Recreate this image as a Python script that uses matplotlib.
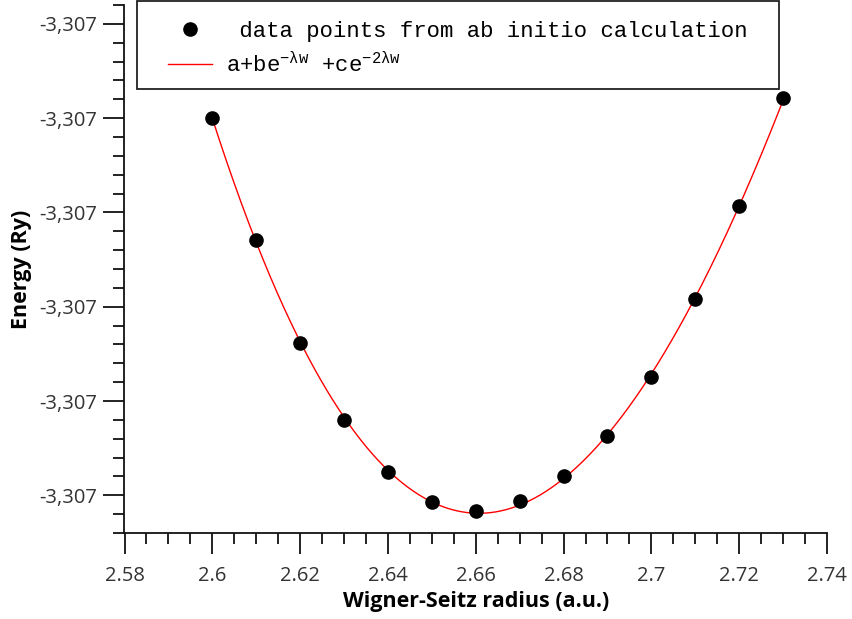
import numpy as np
import matplotlib
matplotlib.use("Agg")
import matplotlib.pyplot as plt
from matplotlib.ticker import MultipleLocator, FuncFormatter
from matplotlib.patches import Rectangle

# Wigner-Seitz radius (a.u.) and total energy (Ry)
radius = [2.60, 2.61, 2.62, 2.63, 2.64, 2.65, 2.66,
          2.67, 2.68, 2.69, 2.70, 2.71, 2.72, 2.73]
energy = [-3.306800, -3.306929, -3.307039, -3.307120, -3.307175, -3.307207, -3.307217,
          -3.307206, -3.307180, -3.307137, -3.307075, -3.306992, -3.306893, -3.306779]

x_ticks = [2.58, 2.60, 2.62, 2.64, 2.66, 2.68, 2.70, 2.72, 2.74]
x_tick_labels = ["2.58", "2.6", "2.62", "2.64", "2.66", "2.68", "2.7", "2.72", "2.74"]

data_label = " data points from ab initio calculation"
fit_label = r"a+be$^{-\lambda w}$ +ce$^{-2\lambda w}$"

w = np.asarray(radius)
e = np.asarray(energy)

# Fit E(w) = a + b exp(-lam w) + c exp(-2 lam w): linear least squares for a, b, c
# at each trial lambda, keeping the lambda with the smallest residual.
w0 = w.mean()
e0 = e.mean()
best = None
for lam in np.linspace(0.05, 20.0, 4000):
    u = np.exp(-lam * (w - w0))
    A = np.column_stack([np.ones_like(w), u, u ** 2])
    coef, *_ = np.linalg.lstsq(A, (e - e0) * 1e6, rcond=None)
    res = np.sum((A @ coef - (e - e0) * 1e6) ** 2)
    if best is None or res < best[0]:
        best = (res, lam, coef)
_, lam_fit, coef_fit = best
w_fine = np.linspace(w.min(), w.max(), 400)
u_fine = np.exp(-lam_fit * (w_fine - w0))
e_fine = e0 + (coef_fit[0] + coef_fit[1] * u_fine + coef_fit[2] * u_fine ** 2) / 1e6

plt.rcParams["font.family"] = ["Open Sans", "DejaVu Sans"]
plt.rcParams["mathtext.fontset"] = "custom"
plt.rcParams["mathtext.rm"] = "Liberation Mono"
plt.rcParams["mathtext.it"] = "Liberation Mono"
plt.rcParams["mathtext.bf"] = "Liberation Mono:bold"

fig = plt.figure(figsize=(8.53, 6.19), dpi=100)
ax = fig.add_axes([124.5 / 853, 86 / 619, (827 - 124.5) / 853, (533 - 5) / 619])

fit_line, = ax.plot(w_fine, e_fine, color="red", lw=1.0, zorder=2)
pts, = ax.plot(radius, energy, "o", color="black", ms=9.5, zorder=3, linestyle="none")

ax.set_xlim(2.58, 2.74)
ax.set_ylim(-3.30724, -3.30668)

ax.set_xticks(x_ticks)
ax.set_xticklabels(x_tick_labels)
ax.xaxis.set_minor_locator(MultipleLocator(0.005))
ax.yaxis.set_major_locator(MultipleLocator(0.0001))
ax.yaxis.set_minor_locator(MultipleLocator(0.00002))
ax.yaxis.set_major_formatter(FuncFormatter(lambda v, p: f"{v:.3f}".replace(".", ",")))

for s in ("top", "right"):
    ax.spines[s].set_visible(False)
for s in ("left", "bottom"):
    ax.spines[s].set_linewidth(1.3)
    ax.spines[s].set_color("#111111")

ax.tick_params(which="major", direction="out", length=15, width=1.3, color="#111111",
               labelsize=14.5, labelcolor="#333333", pad=5)
ax.tick_params(axis="x", which="major", pad=8.5)
ax.tick_params(which="minor", direction="out", length=8, width=1.3, color="#111111")

ax.set_xlabel("Wigner-Seitz radius (a.u.)", fontsize=15.5, fontweight="bold", labelpad=4)
ax.set_ylabel("Energy (Ry)", fontsize=15.5, fontweight="bold")
ax.yaxis.set_label_coords(-0.132, 0.5)

# legend box
fig.patches.append(Rectangle((137 / 853, 1 - 89 / 619), (779 - 137) / 853, 88 / 619,
                             transform=fig.transFigure, fill=True, facecolor="white",
                             edgecolor="#222222", lw=1.3, zorder=5))
leg = fig.legend([pts, fit_line], [data_label, fit_label],
                 loc="upper left", bbox_to_anchor=(168 / 853, 1 - 21 / 619),
                 frameon=False, handlelength=2.0, handletextpad=0.6,
                 labelspacing=0.45, borderpad=0.0, borderaxespad=0.0,
                 prop={"family": "Liberation Mono", "size": 16})
leg.set_zorder(6)

fig.savefig("out.png", dpi=100)
